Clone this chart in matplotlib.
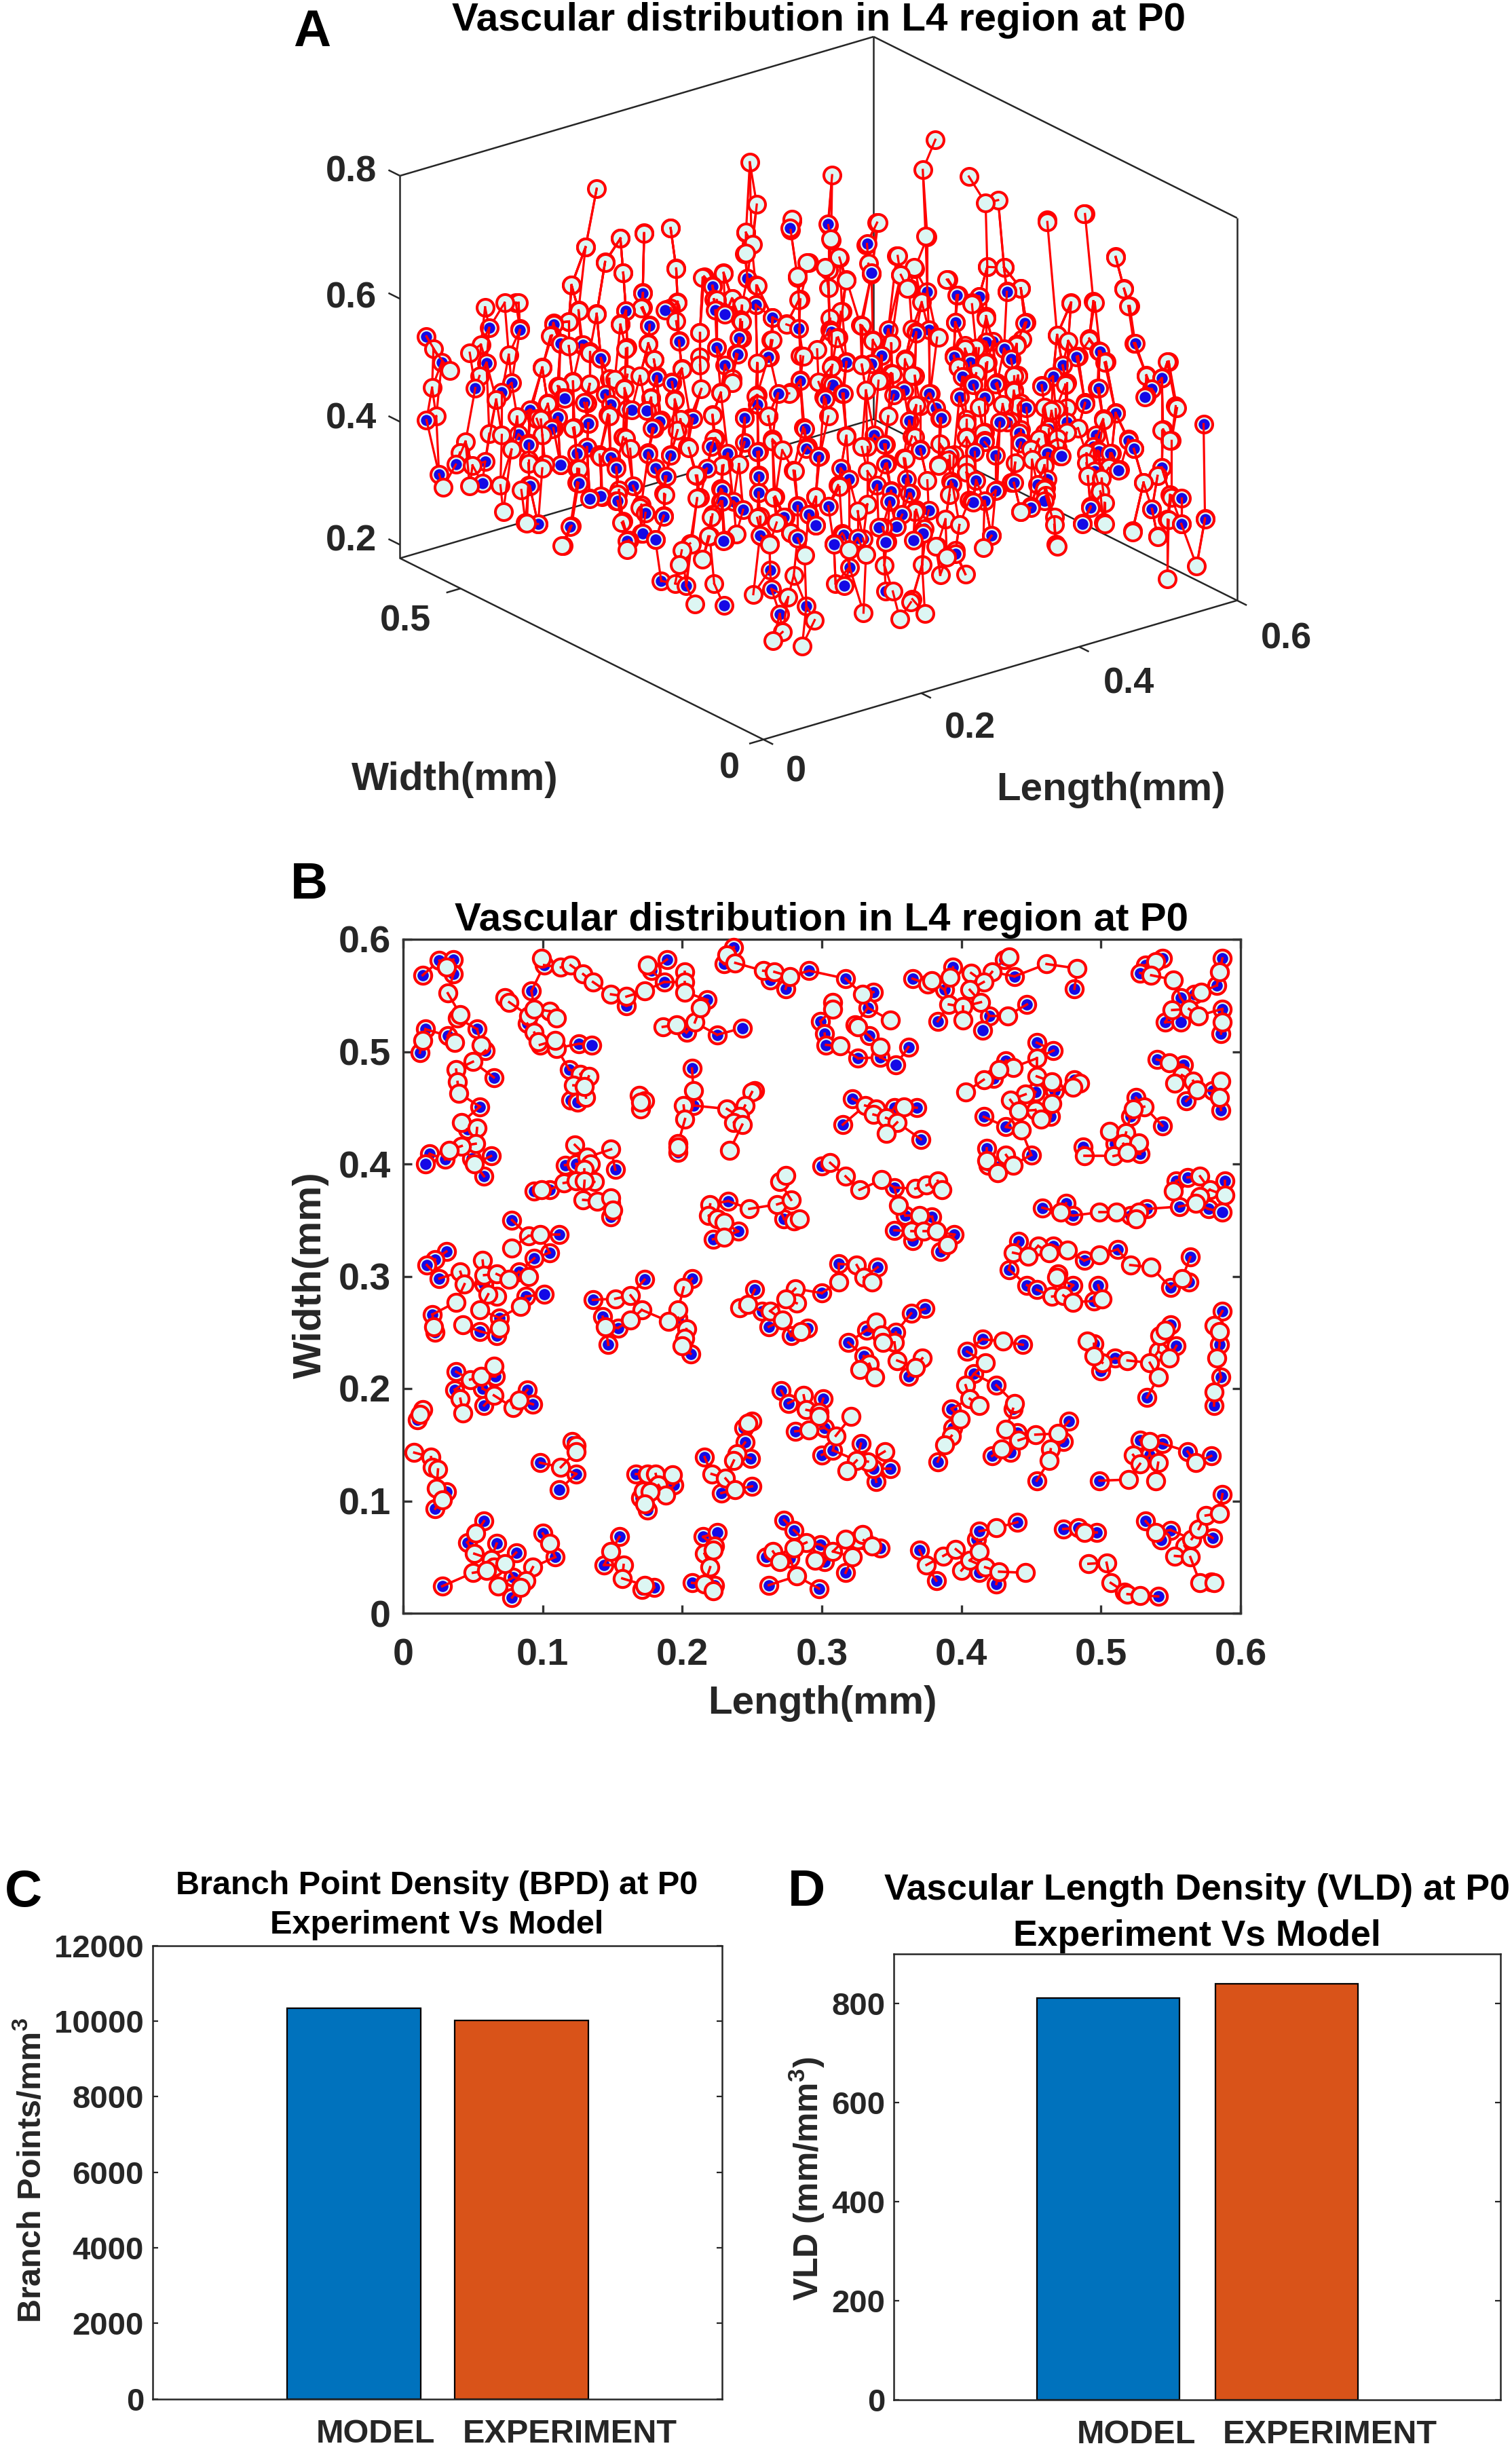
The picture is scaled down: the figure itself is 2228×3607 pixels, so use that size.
import numpy as np
import matplotlib
matplotlib.use("Agg")
import matplotlib.pyplot as plt
from mpl_toolkits.mplot3d import proj3d

plt.rcParams['font.family'] = ['Liberation Sans', 'DejaVu Sans']
plt.rcParams['font.weight'] = 'bold'
plt.rcParams['axes.labelweight'] = 'bold'
plt.rcParams['axes.titleweight'] = 'bold'
plt.rcParams['mathtext.fontset'] = 'custom'
plt.rcParams['mathtext.bf'] = 'Liberation Sans:bold'
plt.rcParams['mathtext.rm'] = 'Liberation Sans:bold'

# ---------- data: panel B, (length, width) in micrometres ----------
B_BLUE = [(14,568),(26,581),(36,582),(36,569),(16,520),(12,499),(32,514),(53,520),(59,501),(65,477),(55,451),(46,431),(19,409),(16,400),(30,404),(49,405),(63,407),(58,389),
(92,554),(89,525),(98,506),(126,507),(135,506),(119,484),(120,457),(125,455),
(101,577),(160,541),(203,517),(225,515),(243,521),(218,546),(189,582),(178,572),(187,562),
(237,593),(230,578),(263,564),(274,556),(291,572),(207,485),(208,452),(197,410),
(116,399),(124,400),(152,395),(94,376),(105,377),(149,365),(149,353),
(233,367),(240,340),(222,333),(273,351),
(78,350),(112,337),(105,321),(94,316),(31,322),(23,315),(17,310),(83,304),(26,298),
(58,293),(88,282),(101,284),(21,266),(23,250),(55,251),(69,263),(67,247),
(136,279),(143,264),(154,254),(147,239),(173,297),(207,298),(197,263),(206,231),
(252,288),(257,269),(300,285),(262,255),(278,247),(290,254),
(38,215),(66,211),(37,199),(57,200),(58,185),(89,199),(93,186),
(10,172),(31,108),(23,93),(98,134),(121,153),(124,124),(112,110),
(167,124),(194,114),(170,103),(175,92),
(244,165),(245,152),(249,138),(216,139),(250,113),(228,107),
(271,198),(276,187),(301,191),(302,165),(281,162),(300,141),(308,145),
(328,151),(349,129),(339,117),(337,129),
(374,271),(364,267),(332,252),(353,250),(319,241),(330,229),(362,211),
(415,244),(404,233),(444,239),(409,213),(425,203),(393,182),(394,165),(383,135),
(437,182),(440,161),(435,143),(422,140),(477,171),(473,153),(454,118),
(495,240),(510,227),(500,216),(550,257),(554,238),(533,192),
(587,269),(585,239),(586,210),(581,185),
(528,154),(544,151),(535,141),(562,144),(579,140),(499,118),
(58,82),(46,63),(67,62),(81,54),(28,24),(79,32),(78,14),(100,71),(109,50),
(155,68),(144,43),(171,21),(180,23),
(215,68),(225,72),(207,27),(223,25),
(273,83),(280,74),(299,61),(260,50),(277,49),(302,46),(262,25),(298,22),
(342,58),(317,36),(330,65),
(370,56),(382,29),(411,66),(413,73),(440,81),(413,36),(425,26),
(473,75),(484,76),(497,72),(541,15),
(532,82),(550,74),(543,65),(587,106),(580,67),(579,28),
(317,565),(299,527),(302,516),(303,506),(337,553),(333,539),(334,514),(326,494),(342,495),(362,504),(353,488),
(365,565),(394,575),(388,555),(431,582),(438,567),(481,556),(447,542),(420,532),(383,527),(415,519),
(544,583),(532,577),(528,570),(587,583),(583,559),(567,551),(557,548),(587,538),(586,516),(546,526),(557,526),
(454,508),(466,501),(432,492),(423,476),(481,475),(453,464),(467,465),(464,442),(416,442),(432,433),(418,414),(450,408),(419,399),(428,398),
(322,458),(352,450),(368,450),(315,435),(371,422),
(525,459),(521,442),(544,434),(510,418),(487,415),(528,409),
(540,493),(559,488),(580,465),(561,456),(586,448),
(300,398),(352,379),(360,354),(379,353),(352,341),(365,332),(395,337),(385,322),
(312,311),(340,308),(441,331),(466,327),(488,314),(512,324),(434,306),(564,317),
(447,292),(454,288),(480,292),(498,292),(495,278),(550,290),(563,295),
(458,361),(475,365),(480,354),(521,354),(533,360),
(554,385),(562,388),(589,385),(556,362),(577,360),(587,357)]

B_CYAN = [(31,575),(32,552),(39,530),(41,533),(14,510),(37,508),(56,506),(50,491),(38,484),(39,473),(40,463),(42,437),(53,432),(52,418),(42,416),(33,412),(51,400),
(73,548),(76,544),(90,532),(105,536),(110,530),(94,538),(94,517),(97,509),(110,503),(109,510),(127,480),(133,478),(122,470),(131,459),(130,469),
(99,583),(113,575),(120,577),(129,569),(136,562),(149,551),(160,549),(173,554),(186,522),(196,524),(209,526),(213,539),(175,577),(202,571),(202,562),(202,553),
(232,586),(238,579),(258,572),(266,571),(277,567),
(169,461),(170,449),(173,456),(170,455),(208,465),(201,452),(202,440),(197,418),(197,415),
(252,465),(250,464),(245,452),(232,449),(241,442),(237,437),(243,435),(234,412),
(123,417),(149,413),(132,406),(134,400),(130,395),(115,383),(124,385),(137,384),(130,385),(99,377),(129,368),(139,367),(149,370),(150,359),
(220,364),(219,354),(225,351),(230,348),(230,335),(248,360),(268,364),(278,368),(270,384),(274,390),(280,349),(284,351),
(90,336),(98,337),(78,325),(57,314),(41,304),(58,301),(67,302),(90,300),(76,297),
(44,293),(67,282),(61,284),(84,273),(38,277),(55,270),(22,255),(43,257),(69,254),
(152,280),(163,283),(171,270),(163,261),(145,255),(201,290),(197,270),(190,260),(203,253),(202,245),(200,238),
(241,272),(247,275),(263,269),(281,289),(282,276),(274,280),(272,261),(285,251),
(48,208),(56,211),(65,220),(41,191),(65,194),(43,178),(79,183),(83,190),
(14,181),(12,177),(8,143),(20,139),(21,130),(25,128),(24,111),(28,101),
(113,130),(124,149),(124,144),
(175,124),(181,124),(193,123),(183,114),(188,105),(172,109),(177,108),(173,97),
(250,171),(247,169),(239,142),(237,136),(221,124),(231,120),(238,110),
(287,194),(289,181),(298,179),(291,163),(298,175),(310,158),(321,175),(345,144),(333,135),(325,136),(318,127),
(339,259),(343,248),(352,241),(344,241),(334,222),(354,225),(372,227),(367,219),(327,217),(338,210),
(430,242),(417,223),(403,203),(406,191),(413,185),(399,173),(393,158),(388,150),
(438,187),(432,164),(441,154),(453,159),(429,146),(469,160),(464,146),(463,136),
(490,242),(501,223),(495,229),(519,225),(541,233),(542,247),(546,252),(549,227),(535,223),(541,210),
(581,256),(585,251),(583,227),(581,197),
(535,153),(523,141),(541,134),(528,133),(568,134),(520,119),(539,118),
(52,71),(51,53),(63,48),(65,41),(73,44),(50,36),(60,38),(93,41),(88,29),(68,24),(84,23),(105,62),
(149,55),(158,43),(157,31),(173,25),
(223,60),(216,53),(222,56),(220,41),(216,26),(222,20),
(289,63),(280,58),(265,55),(270,46),(295,47),(282,33),
(308,55),(326,65),(317,66),(329,70),(336,60),(322,50),
(375,43),(387,51),(396,57),(400,38),(406,47),(413,55),(425,76),(417,41),(427,37),(446,36),
(488,72),(491,44),(504,45),(507,27),(517,19),(519,17),(528,16),
(539,72),(560,60),(565,66),(570,75),(575,87),(585,89),(553,51),(564,50),(571,27),(581,27),
(308,544),(308,538),(313,505),(329,551),(349,528),(324,524),(326,522),(342,504),
(376,560),(379,563),(392,566),(407,570),(422,571),(416,562),(434,584),(406,555),(461,578),(483,574),(391,542),(414,544),(401,540),(401,528),(433,532),
(539,580),(536,568),(552,564),(585,571),(572,553),(551,537),(563,538),(570,532),(587,526),
(454,494),(437,486),(427,484),(416,475),(403,464),(454,478),(465,473),(485,472),(480,468),(446,462),(435,457),(465,454),(453,448),(441,447),(457,440),(443,430),(432,408),(418,403),(437,399),(426,392),
(331,452),(339,449),(337,444),(346,441),(359,451),(354,437),(346,427),
(531,451),(523,449),(506,429),(518,428),(516,418),(527,419),(488,407),(509,407),(519,410),
(549,490),(558,479),(553,472),(566,474),(569,466),(586,474),(585,459),
(306,401),(317,389),(327,377),(343,386),(367,378),(375,381),(383,385),(386,377),(355,363),(370,354),(364,340),(373,340),(382,340),(390,328),
(325,310),(312,295),(330,299),(336,295),
(437,321),(455,327),(448,318),(463,321),(476,323),(499,319),(521,310),(536,308),(469,302),(558,298),(465,282),(473,283),(480,277),(468,299),(501,280),
(471,357),(499,357),(511,357),(527,357),(525,351),
(571,389),(552,376),(578,377),(571,371),(589,372),(568,365)]

# ---------- data: panel A, (length, height) in micrometres ----------
# width = WIDTH_SUM - length for each depth group
A_MID_BLUE = [(19,541),(30,500),(19,405),(64,560),(86,559),(62,503),(54,461),(80,472),(73,456),(94,430),(117,452),(109,401),(134,446),(135,413),(92,374),(40,335),(61,342),(28,318),(59,307),(115,343),(92,307),(128,315),(134,374),(99,245),(122,243),(136,291),
(110,571),(130,540),(144,520),(162,599),(174,629),(191,604),(179,578),(200,555),(184,493),(195,486),(166,438),(186,422),(182,410),(208,430),(194,369),(178,368),(151,359),
(155,342),(155,289),(189,268),(190,333),(231,315),(230,297),(164,226),(173,238),(183,229),(233,234),
(259,244),(276,276),(298,266),(285,295),(311,237),(317,255),(332,248),(349,245),(343,267),(375,261),(398,236),(424,263),
(452,312),(489,290),(504,294),(577,307),(560,298),(539,320),(546,388),(526,416),(522,429),(515,380),(495,317),(499,435),(501,409),(510,407),(513,472),(576,462),(546,533),(534,501),(526,588),(486,562),(501,572),(500,512),(460,512),(448,612),(443,525),(435,661),(400,652),(415,651),(398,607),
(464,360),(465,402),(473,398),(435,449),(445,416),(438,351),(428,338),(419,417),(387,450),(395,348),(411,316),(380,489),(397,551),(404,519),(411,507),(427,510),(491,487),
(224,646),(227,607),(255,619),(267,600),(370,586),(320,533),(310,495),(287,499),(265,536),(241,538),(227,547),(305,472),(317,482),(247,434),(223,385),(257,381),(290,421),(301,379),(348,403),(373,398),(349,372),(257,341),(257,314),(292,393),(366,325),(352,327)]
A_MID_CYAN = [(24,521),(36,487),(23,458),(26,412),(50,518),(58,532),(61,593),(75,602),(83,603),(57,481),(78,518),(102,499),(69,444),(84,418),(101,415),(114,470),(106,442),(124,479),(136,477),(150,427),(124,404),(80,364),(64,388),(73,387),(47,373),(43,355),(52,335),(31,297),(50,301),(72,305),(92,348),(102,336),(87,299),(127,339),(74,262),(90,246),(117,212),(145,295),(143,363),(162,391),
(141,795),(133,699),(123,636),(147,677),(158,716),(175,727),(194,737),(160,661),(198,672),(121,577),(128,595),(141,592),(109,553),(115,540),(121,537),(136,530),(162,537),(158,577),(173,605),(199,616),(194,607),(215,570),(178,548),(182,522),(202,509),(215,530),(163,495),(161,472),(150,487),(197,457),(180,460),(201,427),(206,383),
(157,307),(173,285),(159,254),(189,305),(213,337),(213,300),(224,275),(231,355),(163,210),(202,214),(209,225),(222,239),(217,201),(200,190),
(265,231),(258,275),(270,267),(280,251),(290,216),(298,312),(322,229),(334,222),(369,296),(385,241),(418,243),(392,224),
(445,305),(462,343),(469,299),(471,251),(525,281),(543,275),(550,207),(571,231),(550,304),(553,340),(533,362),(543,374),(553,433),(546,448),(508,383),(503,365),(493,368),(492,405),(504,462),(557,486),(550,560),(535,536),(523,648),(519,676),(513,726),(498,651),(491,794),(481,649),(471,595),(494,589),(506,555),(477,515),(464,778),(445,668),(442,577),(440,499),(433,701),(421,700),(420,620),(410,641),(393,676),(415,567),(405,565),
(471,427),(462,382),(478,437),(462,435),(452,407),(443,477),(445,438),(418,430),(406,421),(406,450),(386,373),(394,326),(408,319),(397,392),(385,581),(369,517),(352,519),(373,469),(400,534),(413,526),(421,545),(440,525),(467,471),(478,477),
(232,669),(217,659),(238,627),(227,624),(245,617),(245,591),(245,564),(255,651),(286,631),(277,590),(317,615),(308,603),(308,585),(331,594),(339,571),(352,568),(362,543),(367,592),(313,572),(331,531),(309,524),(289,539),(266,563),(230,474),(238,497),(255,471),(280,480),(334,489),(345,507),(264,439),(224,436),(226,399),(267,399),(320,414),(335,398),(369,417),(362,381),(335,358),(283,352),(269,309),(315,330),(335,304),(393,383),(406,377),(378,348)]
# core of the cloud, left half
A_CORE_L_BLUE = [(86,561),(131,540),(115,540),(110,573),(144,520),(174,630),(162,599),(179,577),(190,603),(200,554),(218,661),(224,647),(226,607),(233,601),(249,662),(255,619),(243,564),(227,547),(242,537),(233,519),(267,600),(286,584),(264,535),(287,540),(307,755),(280,744),(334,726),(309,582),(320,534),(310,528),(287,501),(308,498),(318,482),(304,475),(271,477),(247,435),(256,457),(289,424),(184,495),(195,487),(147,461),(118,452),(132,446),(93,430),(151,445),(163,439),(177,438),(187,424),(210,429),(113,420),(135,413),(110,402),(181,410),(92,376),(85,389),(134,374),(127,363),(115,343),(151,360),(155,344),(178,370),(194,368),(183,345),(191,333),(220,349),(235,375),(247,395),(256,380),(257,343),(257,314),(230,317),(231,297),(239,298),(246,285),(300,377),(291,390),(316,360),(322,343),(285,296),(293,283),(298,266),(275,276),(307,298),(318,252),(311,236),(328,248),(93,306),(127,316),(136,290),(144,295),(156,289),(167,315),(176,272),(189,269),(174,238),(183,229),(163,225),(123,245),(99,245),(232,233),(258,244),(285,243)]
A_CORE_L_CYAN = [(133,699),(158,716),(175,726),(194,737),(85,603),(147,676),(160,661),(123,636),(198,671),(199,618),(174,606),(158,576),(141,591),(128,596),(121,577),(198,586),(108,552),(136,527),(163,539),(178,547),(182,522),(102,500),(215,570),(215,517),(172,494),(202,510),(113,471),(124,480),(136,477),(161,473),(154,487),(180,459),(197,459),(216,478),(230,473),(106,441),(149,429),(98,416),(224,437),(199,409),(125,405),(102,390),(160,393),(225,398),(256,473),(264,439),(279,478),(267,402),(238,491),(274,385),(207,381),(92,343),(104,343),(128,338),(144,360),(165,375),(212,337),(232,356),(243,359),(190,303),(215,301),(172,280),(156,300),(160,256),(268,307),(282,353),(298,312),(314,333),(320,413),(307,444),(331,397),(300,499),(331,530),(299,552),(314,573),(330,595),(316,615),(287,632),(277,591),(267,563),(256,525),(244,594),(256,650),(238,628),(232,668),(225,625),(247,701),(252,717),(248,736),(281,758),(293,692),(285,667),(307,682),(315,703),(320,668),(309,730),(307,653),(256,273),(223,270),(208,226),(116,212),(91,245),(280,251),(265,232),(221,239),(241,245),(328,292)]
# core of the cloud, right half
A_CORE_R_BLUE = [(356,711),(338,679),(378,654),(399,651),(415,651),(435,662),(398,607),(449,613),(527,588),(370,588),(350,590),(379,593),(420,578),(425,579),(433,568),(397,553),(345,547),(338,533),(409,543),(438,552),(443,526),(485,561),(502,572),(475,546),(468,527),(460,511),(546,533),(539,515),(535,503),(403,519),(410,509),(428,512),(354,484),(361,493),(379,489),(401,486),(419,487),(501,512),(491,485),(513,473),(449,474),(384,466),(388,450),(365,443),(478,454),(438,451),(430,448),(419,431),(465,442),(497,417),(444,432),(445,417),(419,415),(340,417),(347,403),(373,397),(394,390),(412,398),(427,394),(464,402),(474,398),(500,410),(509,407),(526,416),(522,431),(546,388),(348,371),(386,374),(498,377),(516,381),(363,348),(413,352),(396,344),(342,336),(352,328),(365,325),(440,351),(427,337),(463,345),(457,350),(560,340),(539,320),(495,319),(452,314),(462,324),(419,319),(410,317),(351,310),(379,299),(560,298),(489,291),(577,309),(356,270),(346,268),(376,269),(360,290),(348,244),(398,231),(424,263),(368,249)]
A_CORE_R_CYAN = [(342,763),(378,744),(464,781),(490,794),(513,727),(519,675),(522,648),(392,676),(421,700),(433,700),(445,668),(369,691),(359,680),(365,658),(374,637),(410,638),(420,616),(481,648),(497,653),(471,595),(494,592),(479,586),(505,554),(442,575),(446,585),(413,567),(405,570),(420,543),(386,581),(352,568),(339,572),(400,534),(362,541),(353,518),(367,517),(343,506),(535,537),(551,561),(478,518),(440,501),(556,489),(470,474),(462,477),(445,481),(432,478),(415,471),(370,469),(350,449),(406,444),(504,460),(486,445),(547,450),(552,433),(471,411),(458,424),(406,420),(367,418),(387,408),(492,389),(453,390),(441,384),(361,382),(406,364),(502,344),(533,362),(552,344),(505,326),(463,333),(469,286),(445,304),(401,278),(370,299),(391,286),(505,291),(525,283),(543,276),(470,254),(551,303),(384,241)]
A_FRONT_BLUE = [(57,295),(75,289),(102,260),(135,322),(136,291),(142,251),(161,266),(188,302),(192,333),(218,297),(237,286)]
A_FRONT_CYAN = [(67,292),(81,260),(95,295),(123,281),(148,279),(152,315),(167,244),(144,222),(137,207),(158,201),(182,305),(202,260),(217,339),(223,297),(228,253),(236,281),(246,264),(244,343),(257,328),(275,331)]
A_BACK_BLUE = [(410,614),(437,624),(465,595),(468,548)]
A_BACK_CYAN = [(381,718),(440,704),(514,770),(505,720),(538,713),(550,671),(559,677),(386,650),(411,629),(473,631),(507,612),(378,604),(383,585),(378,570),(439,600),(445,571),(466,563),(487,578),(499,561),(489,547),(494,526),(422,560),(435,553),(415,537),(450,534)]
WIDTH_SUM_MID, WIDTH_SUM_FRONT, WIDTH_SUM_BACK = 600, 300, 900

# ---------- data: bars ----------
BAR_LABELS = ['MODEL', 'EXPERIMENT']
BPD_VALUES = [10340, 10020]
VLD_VALUES = [810, 840]

W_PX, H_PX = 2228, 3607
RED, CYAN, BLUE = '#FF0000', '#DDF6F3', '#1409E6'
DARK = '#262626'

fig = plt.figure(figsize=(W_PX/100, H_PX/100), dpi=100, facecolor='white')

def rect(l, r, t, b):
    return [l/W_PX, 1-b/H_PX, (r-l)/W_PX, (b-t)/H_PX]

def ftext(x, y, s, **kw):
    kw.setdefault('ha', 'center'); kw.setdefault('va', 'center')
    return fig.text(x/W_PX, 1-y/H_PX, s, **kw)

def mst(P, maxlen=None):
    """minimum spanning tree over the points, long links dropped"""
    n = len(P)
    seen = np.zeros(n, bool); seen[0] = True
    d = np.hypot(*(P-P[0]).T); par = np.zeros(n, int)
    edges = []
    for _ in range(n-1):
        dd = np.where(seen, np.inf, d)
        j = int(np.argmin(dd))
        if maxlen is None or dd[j] <= maxlen:
            edges.append((par[j], j))
        seen[j] = True
        nd = np.hypot(*(P-P[j]).T)
        m = (nd < d) & ~seen
        d[m] = nd[m]; par[m] = j
    return edges

# ---------- panel A ----------
ax3 = fig.add_axes([0.1, 0.7, 0.8, 0.8*W_PX/H_PX], projection='3d', proj_type='ortho')
ax3.patch.set_visible(False)
ax3.set_axis_off()
ax3.computed_zorder = False
ZMIN, ZMAX, LMAX = 0.178, 0.8, 0.6
ax3.set_box_aspect((874, 874, 606))
ax3.view_init(elev=22.5, azim=-127.5)
M = LMAX
ax3.set_xlim(0, M, view_margin=0); ax3.set_ylim(0, M, view_margin=0); ax3.set_zlim(ZMIN, ZMAX, view_margin=0)

CORNERS = np.array([(0, 0, ZMIN), (0, M, ZMIN), (M, 0, ZMIN), (M, M, ZMAX)])
TARGET = np.array([(1125, H_PX-1084), (589.5, H_PX-820), (1823, H_PX-883), (1287, H_PX-64)])

def proj_px(pts):
    ax3.apply_aspect()
    x2, y2, _ = proj3d.proj_transform(pts[:, 0], pts[:, 1], pts[:, 2], ax3.get_proj())
    return ax3.transData.transform(np.c_[x2, y2])

size = 1800.0
cx, cy = 1200.0, H_PX-500.0
for _ in range(4):
    ax3.set_position([(cx-size/2)/W_PX, (cy-size/2)/H_PX, size/W_PX, size/H_PX])
    d = proj_px(CORNERS)
    size *= np.ptp(TARGET[:, 0])/np.ptp(d[:, 0])
    ax3.set_position([(cx-size/2)/W_PX, (cy-size/2)/H_PX, size/W_PX, size/H_PX])
    d = proj_px(CORNERS)
    off = (TARGET-d).mean(axis=0)
    cx += off[0]; cy += off[1]
ax3.set_position([(cx-size/2)/W_PX, (cy-size/2)/H_PX, size/W_PX, size/H_PX])

def group(lst, wsum, blue):
    return [(l/1000, (wsum-l)/1000, z/1000, blue) for l, z in lst]
A_ALL = (group(A_MID_BLUE, WIDTH_SUM_MID, True) + group(A_MID_CYAN, WIDTH_SUM_MID, False)
         + group(A_CORE_L_BLUE, WIDTH_SUM_MID, True) + group(A_CORE_L_CYAN, WIDTH_SUM_MID, False)
         + group(A_CORE_R_BLUE, WIDTH_SUM_MID, True) + group(A_CORE_R_CYAN, WIDTH_SUM_MID, False)
         + group(A_FRONT_BLUE, WIDTH_SUM_FRONT, True) + group(A_FRONT_CYAN, WIDTH_SUM_FRONT, False)
         + group(A_BACK_BLUE, WIDTH_SUM_BACK, True) + group(A_BACK_CYAN, WIDTH_SUM_BACK, False))
A_ALL.sort(key=lambda p: -p[2])
A_arr = np.array([p[:3] for p in A_ALL])

def box(x0, y0, z0, x1, y1, z1, zo=1, lw=1.8):
    ax3.plot([x0, x1], [y0, y1], [z0, z1], color=DARK, lw=lw, zorder=zo, solid_capstyle='butt')

box(0, M, ZMAX, M, M, ZMAX); box(M, M, ZMAX, M, 0, ZMAX)
box(0, M, ZMIN, 0, M, ZMAX); box(M, 0, ZMIN, M, 0, ZMAX); box(M, M, ZMIN, M, M, ZMAX)
box(0, M, ZMIN, M, M, ZMIN); box(M, 0, ZMIN, M, M, ZMIN)
box(0, 0, ZMIN, M, 0, ZMIN); box(0, 0, ZMIN, 0, M, ZMIN)
for z in (0.2, 0.4, 0.6, 0.8):
    box(0, M, z, 0, M+0.019, z)
for l in (0, 0.2, 0.4, 0.6):
    box(l, 0, ZMIN, l, -0.016, ZMIN)
for w in (0, 0.5):
    box(0, w, ZMIN, -0.018, w, ZMIN)

# links run mostly upright in the reference: weight the horizontal distance on screen
scr = proj_px(A_arr)*np.array([5.0, 1.0])
links = {i: [] for i in range(len(A_ALL))}
for a, b in mst(scr):
    links[max(a, b)].append(min(a, b))
for i in range(2, len(A_ALL)):       # the denser tangle of upright links
    near = np.argsort(np.hypot(*(scr[:i]-scr[i]).T))[:2]
    for j in near:
        if int(j) not in links[i] and np.hypot(*(scr[j]-scr[i])) < 130:
            links[i].append(int(j))
for i, (l, w, z, isblue) in enumerate(A_ALL):
    zo = 3+3*i
    for j in links[i]:
        ax3.plot([l, A_arr[j, 0]], [w, A_arr[j, 1]], [z, A_arr[j, 2]], color=RED, lw=2.3, zorder=zo)
    ax3.plot([l], [w], [z], 'o', ms=18, mfc=CYAN, mec=RED, mew=2.9, zorder=zo+1)
    if isblue:
        ax3.plot([l], [w], [z], 'o', ms=11.8, mfc=BLUE, mec='none', zorder=zo+2)

TK = dict(fontsize=39, fontweight='bold', color=DARK)
for s, (x, y) in {'0.8': (517, 254), '0.6': (517, 439), '0.4': (517, 618), '0.2': (517, 798),
                  '0.5': (598, 916)}.items():
    ftext(x, y, s, **TK)
ftext(1075, 1133, '0', **TK); ftext(1173, 1138, '0', **TK)
ftext(1429, 1073, '0.2', **TK); ftext(1663, 1007, '0.4', **TK); ftext(1895, 941, '0.6', **TK)
ftext(670, 1149, 'Width(mm)', fontsize=42, fontweight='bold', color=DARK)
ftext(1637, 1164, 'Length(mm)', fontsize=42, fontweight='bold', color=DARK)
ftext(1206, 30, 'Vascular distribution in L4 region at P0', fontsize=42, fontweight='bold', color='black')
for s, x, y in (('A', 460, 48), ('B', 455, 1304), ('C', 35, 2789), ('D', 1189, 2789)):
    ftext(x, y, s, fontsize=55, fontweight='bold', color='black')

# ---------- panel B ----------
axb = fig.add_axes(rect(594, 1828, 1384, 2377))
axb.set_xlim(0, 0.6); axb.set_ylim(0, 0.6)
pts = [(l/1000, w/1000, True) for l, w in B_BLUE] + [(l/1000, w/1000, False) for l, w in B_CYAN]
P = np.array([p[:2] for p in pts])
by_point = {i: [] for i in range(len(pts))}
for a, b in mst(P, maxlen=0.027):
    by_point[max(a, b)].append(min(a, b))
for i, (l, w, isblue) in enumerate(pts):
    z = 3+3*i
    for j in by_point[i]:
        axb.plot([l, P[j, 0]], [w, P[j, 1]], color=RED, lw=2.6, zorder=z)
    axb.plot([l], [w], 'o', ms=18.2, mfc=CYAN, mec=RED, mew=3.0, zorder=z+1, clip_on=False)
    if isblue:
        axb.plot([l], [w], 'o', ms=12, mfc=BLUE, mec='none', zorder=z+2, clip_on=False)
for s in axb.spines.values():
    s.set_linewidth(2.4); s.set_color('#333333'); s.set_zorder(2)
ticks = [0, .1, .2, .3, .4, .5, .6]
tl = ['0', '0.1', '0.2', '0.3', '0.4', '0.5', '0.6']
axb.set_xticks(ticks, tl); axb.set_yticks(ticks, tl)
axb.tick_params(direction='in', length=9, width=2.4, top=True, right=True, labelsize=40,
                color='#333333', labelcolor=DARK, pad=26)
axb.tick_params(axis='y', pad=13)
axb.set_xlabel('Length(mm)', fontsize=42, color=DARK, va='center')
axb.set_ylabel('Width(mm)', fontsize=42, color=DARK, va='center')
axb.xaxis.set_label_coords(1212/W_PX, 1-2510/H_PX, transform=fig.transFigure)
axb.yaxis.set_label_coords(458/W_PX, 1-1879/H_PX, transform=fig.transFigure)
axb.set_title('Vascular distribution in L4 region at P0', fontsize=42, color='black',
              x=(1211-594)/1234, y=(2377-1364)/993, va='center')

# ---------- panels C, D ----------
def bars(rc, values, ylim, yticks, xpos, ylabel, ylab_xy, title, title_xy, lab_size, title_size, spacing):
    l, r, t, b = rc
    ax = fig.add_axes(rect(l, r, t, b))
    ax.bar([1, 2], values, width=0.8, color=['#0072BD', '#D95319'], edgecolor='black', linewidth=1.6)
    ax.set_xlim(-0.205, 3.2); ax.set_ylim(*ylim)
    ax.set_yticks(yticks, [str(v) for v in yticks])
    ax.set_xticks(xpos, BAR_LABELS)
    ax.tick_params(axis='x', length=0, labelsize=35, labelcolor=DARK, pad=21)
    ax.tick_params(axis='y', direction='in', length=6, width=1.6, right=True, labelsize=34,
                   labelcolor=DARK, color=DARK, pad=9)
    for s in ax.spines.values():
        s.set_linewidth(1.8); s.set_color(DARK)
    ax.set_ylabel(ylabel, fontsize=lab_size, color=DARK, va='center')
    ax.yaxis.set_label_coords(ylab_xy[0]/W_PX, 1-ylab_xy[1]/H_PX, transform=fig.transFigure)
    ax.set_title(title, fontsize=title_size, color='black', va='center',
                 x=(title_xy[0]-l)/(r-l), y=(b-title_xy[1])/(b-t), linespacing=spacing)
    return ax

bars((224.5, 1064, 2866.6, 3534.6), BPD_VALUES, (0, 12000), [0, 2000, 4000, 6000, 8000, 10000, 12000],
     [1.13, 2.29], r'Branch Points/mm$^{\mathbf{3}}$', (47, 3198),
     'Branch Point Density (BPD) at P0\nExperiment Vs Model', (644, 2816), 35, 35, 1.38)
bars((1317, 2211, 2878.7, 3535.7), VLD_VALUES, (0, 900), [0, 200, 400, 600, 800],
     [1.156, 2.244], r'VLD (mm/mm$^{\mathbf{3}}$)', (1189, 3210),
     'Vascular Length Density (VLD) at P0\nExperiment Vs Model', (1764, 2827), 36, 38.5, 1.47)

fig.savefig('out.png', dpi=100, facecolor='white')
